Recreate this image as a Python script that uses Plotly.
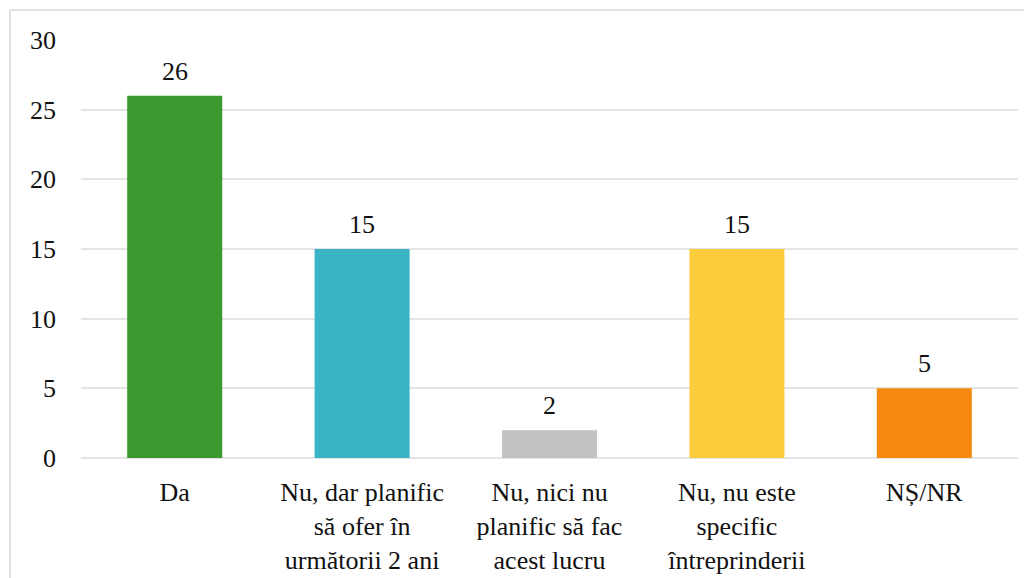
import plotly.graph_objects as go

categories = ["Da", "Nu, dar planific<br>să ofer în<br>următorii 2 ani", "Nu, nici nu<br>planific să fac<br>acest lucru",
              "Nu, nu este<br>specific<br>întreprinderii", "NȘ/NR"]
values = [26, 15, 2, 15, 5]
colors = ["#3A9A2F", "#3AB4C4", "#C2C2C2", "#FBCC3B", "#F5890F"]
y_ticks = [0, 5, 10, 15, 20, 25, 30]

FONT = "Liberation Serif, Times New Roman, serif"
FS = 26

fig = go.Figure(go.Bar(
    x=categories, y=values,
    marker=dict(color=colors, line=dict(width=0)),
    width=0.507,
))

for c, v in zip(categories, values):
    fig.add_annotation(x=c, y=v, text=str(v), showarrow=False, yanchor="bottom",
                       yshift=8, font=dict(family=FONT, size=FS, color="#111111"))

# page body has an 8px margin: offset so the figure lands on the reference pixels
fig.update_layout(
    width=1024, height=570,
    margin=dict(l=73, r=14, t=32, b=120),
    plot_bgcolor="white", paper_bgcolor="white",
    showlegend=False,
    font=dict(family=FONT, size=FS, color="#111111"),
    xaxis=dict(showgrid=False, showline=False, ticks="", tickfont=dict(size=FS),
               ticklabelstandoff=16, automargin=False),
    yaxis=dict(range=[0, 30], tickvals=y_ticks, showgrid=True, gridcolor="#E4E4E4",
               gridwidth=2, zeroline=True, zerolinecolor="#E4E4E4", zerolinewidth=2,
               showline=False, ticks="", tickfont=dict(size=FS), ticklabelstandoff=24,
               automargin=False),
    shapes=[dict(type="rect", xref="paper", yref="paper",
                 x0=(10 - 81) / 937, x1=1.2, y0=-0.6, y1=(458 - 10) / 418,
                 line=dict(color="#E2E2E2", width=2), layer="below")],
)

fig.write_html("out.html")
